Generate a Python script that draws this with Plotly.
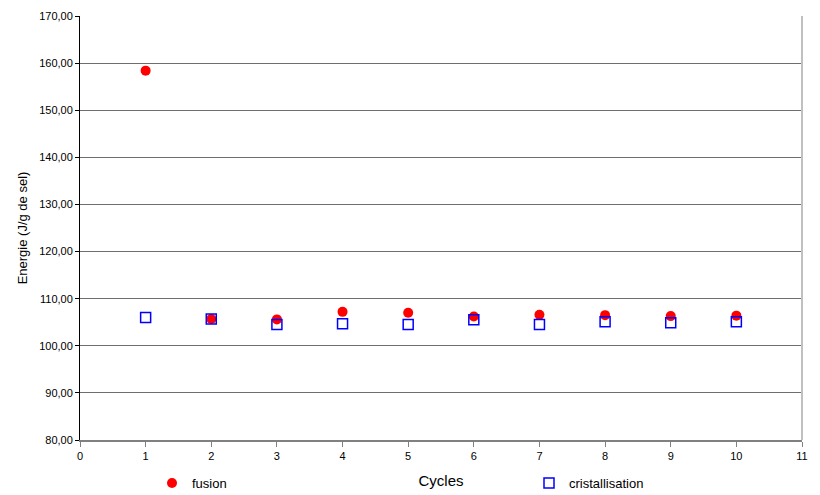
import plotly.graph_objects as go

cycles = [1, 2, 3, 4, 5, 6, 7, 8, 9, 10]
fusion = [158.4, 105.7, 105.6, 107.2, 107.0, 106.2, 106.6, 106.5, 106.3, 106.4]
cristallisation = [106.0, 105.7, 104.5, 104.7, 104.5, 105.5, 104.5, 105.1, 104.9, 105.1]

FONT = "Liberation Sans, Arial, sans-serif"
# page body has an 8px margin: figure coordinates = window coordinates - 8
OFF = 8
W, H = 812, 487
PL, PT = 80 - OFF, 16 - OFF
PR = W - (802 - OFF)
PB = H - (440 - OFF)
PW = W - PL - PR
PH = H - PT - PB

fig = go.Figure()
fig.add_trace(go.Scatter(
    x=cycles, y=fusion, mode="markers", name="fusion",
    marker=dict(symbol="circle", size=10, color="#ff0000"),
    legend="legend",
))
fig.add_trace(go.Scatter(
    x=cycles, y=cristallisation, mode="markers", name="cristallisation",
    marker=dict(symbol="square-open", size=10, color="#0000ff", line=dict(width=1.5, color="#0000ff")),
    legend="legend2",
))

leg_y = (PH + PT - (483 - OFF)) / PH

fig.update_layout(
    width=W, height=H,
    margin=dict(l=PL, r=PR, t=PT, b=PB, autoexpand=False),
    paper_bgcolor="white", plot_bgcolor="white",
    separators=", ",
    font=dict(family=FONT, size=11, color="#000000"),
    showlegend=True,
    legend=dict(x=(152 - 80) / PW, y=leg_y, xref="paper", yref="paper",
                xanchor="left", yanchor="middle", bgcolor="rgba(0,0,0,0)",
                font=dict(family=FONT, size=13), itemwidth=30),
    legend2=dict(x=(529 - 80) / PW, y=leg_y, xref="paper", yref="paper",
                 xanchor="left", yanchor="middle", bgcolor="rgba(0,0,0,0)",
                 font=dict(family=FONT, size=13), itemwidth=30),
    xaxis=dict(
        range=[0, 11], dtick=1, tick0=0, automargin=False,
        showgrid=False, zeroline=False,
        showline=True, linecolor="#808080", linewidth=2,
        ticks="outside", ticklen=5, tickcolor="#808080",
        tickfont=dict(family=FONT, size=11),
        title=dict(text="Cycles", font=dict(family=FONT, size=15), standoff=14),
    ),
    yaxis=dict(
        range=[80, 170], dtick=10, tick0=80, automargin=False,
        tickformat=".2f",
        showgrid=True, gridcolor="#6e6e6e", gridwidth=1,
        zeroline=False,
        showline=True, linecolor="#000000", linewidth=1,
        ticks="outside", ticklen=4, tickcolor="#000000",
        tickfont=dict(family=FONT, size=11),
        title=dict(text="Energie (J/g de sel)", font=dict(family=FONT, size=13), standoff=8),
    ),
)
fig.add_shape(type="line", xref="paper", yref="paper", x0=1, x1=1, y0=0, y1=1,
              line=dict(color="#c0c0c0", width=2))

fig.write_html("out.html")
